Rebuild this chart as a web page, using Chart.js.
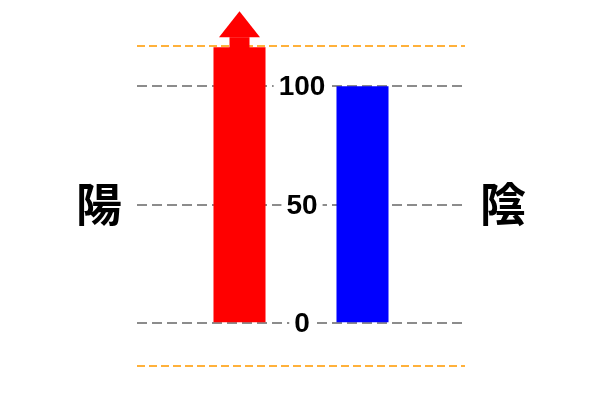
<!DOCTYPE html>
<html lang="ja">
<head>
    <meta charset="utf-8">
    <script src="https://cdn.jsdelivr.net/npm/chart.js"></script>
    <style>
        html, body { margin: 0; padding: 0; background: #ffffff; }
        .chart-box { width: 600px; height: 400px; }
    </style>
</head>
<body>
    <div class="chart-box">
        <canvas id="yinYangChart"></canvas>
    </div>

    <script>
        // data
        const categories = ['陽', '陰'];
        const seriesValues = [116.5, 100];
        const tickValues = [0, 50, 100];
        const rangeBounds = [-18, 117];

        const barColors = ['#ff0000', '#0000ff'];
        const gray = '#8c8c8c';
        const orange = '#ffb13b';

        // arrow on the red bar, side labels and centred tick labels
        const decorations = {
            id: 'decorations',
            afterDatasetsDraw(chart) {
                const ctx = chart.ctx;
                const bar = chart.getDatasetMeta(0).data[0];
                const tipY = bar.y;
                ctx.save();
                ctx.fillStyle = barColors[0];
                ctx.fillRect(bar.x - 10, tipY - 10, 20, 11);
                ctx.beginPath();
                ctx.moveTo(bar.x - 20.5, tipY - 10);
                ctx.lineTo(bar.x + 20.5, tipY - 10);
                ctx.lineTo(bar.x, tipY - 36);
                ctx.closePath();
                ctx.fill();
                ctx.restore();
            },
            afterDraw(chart) {
                const ctx = chart.ctx;
                const area = chart.chartArea;
                const y = chart.scales.y;
                const cx = (area.left + area.right) / 2 + 1;
                ctx.save();
                ctx.textAlign = 'center';
                ctx.textBaseline = 'middle';
                ctx.font = 'bold 28px "Liberation Sans", Arial, sans-serif';
                tickValues.forEach(v => {
                    const py = y.getPixelForValue(v);
                    const label = String(v);
                    const w = ctx.measureText(label).width;
                    ctx.fillStyle = '#ffffff';
                    ctx.fillRect(cx - w / 2 - 5, py - 4, w + 10, 8);
                    ctx.fillStyle = '#000000';
                    ctx.fillText(label, cx, py + 1);
                });
                ctx.font = 'bold 46px "Noto Sans CJK JP", sans-serif';
                const midY = y.getPixelForValue(50);
                ctx.fillText(categories[0], area.left - 38, midY - 1);
                ctx.fillText(categories[1], area.right + 38, midY - 1);
                ctx.restore();
            }
        };

        const ctx = document.getElementById('yinYangChart').getContext('2d');
        new Chart(ctx, {
            type: 'bar',
            data: {
                labels: [''],
                datasets: categories.map((name, i) => ({
                    label: name,
                    data: [seriesValues[i]],
                    backgroundColor: barColors[i],
                    borderWidth: 0,
                    categoryPercentage: 0.75,
                    barPercentage: 0.423
                }))
            },
            options: {
                responsive: true,
                maintainAspectRatio: false,
                animation: false,
                layout: { padding: { left: 137, right: 135, top: 46, bottom: 34 } },
                plugins: {
                    legend: { display: false },
                    tooltip: { enabled: false }
                },
                scales: {
                    x: { display: false },
                    y: {
                        min: rangeBounds[0],
                        max: rangeBounds[1],
                        afterBuildTicks: axis => {
                            axis.ticks = [rangeBounds[0], ...tickValues, rangeBounds[1]].map(v => ({ value: v }));
                        },
                        ticks: { display: false },
                        grid: {
                            drawTicks: false,
                            lineWidth: 2,
                            color: c => tickValues.includes(c.tick.value) ? gray : orange
                        },
                        border: {
                            display: false,
                            dash: c => tickValues.includes(c.tick && c.tick.value) ? [10, 5] : [8, 4]
                        }
                    }
                }
            },
            plugins: [decorations]
        });
    </script>
</body>
</html>
